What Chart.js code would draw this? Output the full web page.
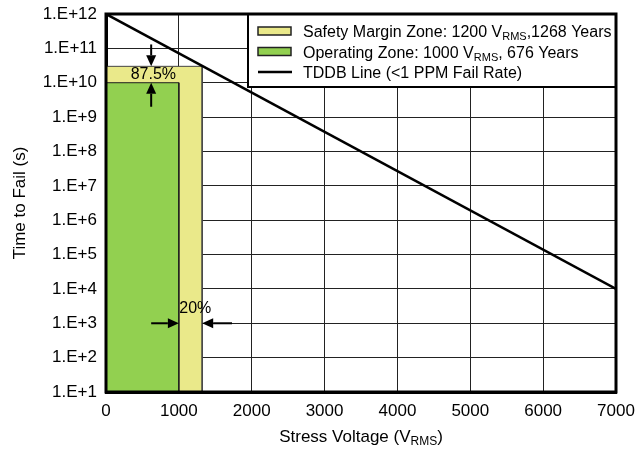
<!DOCTYPE html>
<html>
<head>
<meta charset="utf-8">
<script src="https://cdn.jsdelivr.net/npm/chart.js@4/dist/chart.umd.min.js"></script>
<style>
body { margin: 0; background: #fff; }
</style>
</head>
<body>
<canvas id="grafico" width="636" height="450"></canvas>
<script>
/* datos */
var voltageTicks = [0, 1000, 2000, 3000, 4000, 5000, 6000, 7000];
var timeTicks = [1e1, 1e2, 1e3, 1e4, 1e5, 1e6, 1e7, 1e8, 1e9, 1e10, 1e11, 1e12];

var tddbVoltage = [0, 7000];
var tddbTime = [1e12, 1e4];

var safetyVoltage = [0, 0, 1320, 1320];
var safetyTime = [1e1, 3e10, 3e10, 1e1];

var operatingVoltage = [0, 0, 1000, 1000];
var operatingTime = [1e1, 1e10, 1e10, 1e1];

// flechas y textos de las cotas (en unidades de los ejes)
var marginArrowX = 620;
var marginArrowFrom = [1.3e11, 2e9];
var marginArrowTo = [3e10, 1e10];
var marginText = "87.5%";
var marginTextX = 650;
var marginTextY = 1.75e10;

var widthArrowY = 1e3;
var widthArrowFrom = [620, 1730];
var widthArrowTo = [1000, 1320];
var widthText = "20%";
var widthTextX = 1225;
var widthTextY = 2.7e3;

var legendRows = [
    [["Safety Margin Zone: 1200 V", false], ["RMS", true], [",1268 Years", false]],
    [["Operating Zone: 1000 V", false], ["RMS", true], [", 676 Years", false]],
    [["TDDB Line (<1 PPM Fail Rate)", false]]
];
var xTitle = [["Stress Voltage (V", false], ["RMS", true], [")", false]];
var yTitle = "Time to Fail (s)";

var FONT = "'Liberation Sans', Arial, sans-serif";
var YELLOW = "#eae98a";
var GREEN = "#92d050";

function points(xs, ys) {
    return xs.map(function (x, i) { return { x: x, y: ys[i] }; });
}

// texto con subíndices
function partsWidth(ctx, parts, size) {
    var w = 0;
    parts.forEach(function (p) {
        ctx.font = (p[1] ? Math.round(size * 0.68) : size) + "px " + FONT;
        w += ctx.measureText(p[0]).width;
    });
    return w;
}
function drawParts(ctx, parts, x, y, size) {
    ctx.textBaseline = "alphabetic";
    ctx.textAlign = "left";
    parts.forEach(function (p) {
        ctx.font = (p[1] ? Math.round(size * 0.68) : size) + "px " + FONT;
        ctx.fillText(p[0], x, p[1] ? y + 3 : y);
        x += ctx.measureText(p[0]).width;
    });
}

function arrow(ctx, x1, y1, x2, y2) {
    var ang = Math.atan2(y2 - y1, x2 - x1);
    var head = 11, half = 5;
    ctx.beginPath();
    ctx.moveTo(x1, y1);
    ctx.lineTo(x2 - Math.cos(ang) * head, y2 - Math.sin(ang) * head);
    ctx.lineWidth = 2;
    ctx.strokeStyle = "#000";
    ctx.stroke();
    ctx.beginPath();
    ctx.moveTo(x2, y2);
    ctx.lineTo(x2 - Math.cos(ang) * head - Math.sin(ang) * half, y2 - Math.sin(ang) * head + Math.cos(ang) * half);
    ctx.lineTo(x2 - Math.cos(ang) * head + Math.sin(ang) * half, y2 - Math.sin(ang) * head - Math.cos(ang) * half);
    ctx.closePath();
    ctx.fillStyle = "#000";
    ctx.fill();
}

/* leyenda dentro del gráfico */
var legendPlugin = {
    id: "leyenda",
    afterDatasetsDraw: function (chart) {
        var ctx = chart.ctx, a = chart.chartArea;
        var w = 368, h = 73;
        var left = a.right - w, top = a.top;
        ctx.save();
        ctx.fillStyle = "#fff";
        ctx.fillRect(left, top, w, h);
        ctx.lineWidth = 2;
        ctx.strokeStyle = "#000";
        ctx.strokeRect(left, top, w, h);
        var swatches = [YELLOW, GREEN, null];
        legendRows.forEach(function (row, i) {
            var cy = top + 17 + i * 20.5;
            if (swatches[i]) {
                ctx.fillStyle = swatches[i];
                ctx.fillRect(left + 10, cy - 4, 33, 8);
                ctx.lineWidth = 1.5;
                ctx.strokeStyle = "#222";
                ctx.strokeRect(left + 10, cy - 4, 33, 8);
            } else {
                ctx.beginPath();
                ctx.moveTo(left + 10, cy);
                ctx.lineTo(left + 44, cy);
                ctx.lineWidth = 2.5;
                ctx.strokeStyle = "#000";
                ctx.stroke();
            }
            ctx.fillStyle = "#000";
            drawParts(ctx, row, left + 55, cy + 6, 16);
        });
        ctx.restore();
    }
};

/* marco del área del gráfico */
var framePlugin = {
    id: "marco",
    afterDatasetsDraw: function (chart) {
        var ctx = chart.ctx, a = chart.chartArea;
        ctx.save();
        ctx.lineWidth = 3;
        ctx.strokeStyle = "#000";
        ctx.strokeRect(a.left, a.top, a.right - a.left, a.bottom - a.top);
        ctx.restore();
    }
};

/* cotas y títulos de ejes */
var notesPlugin = {
    id: "cotas",
    afterDraw: function (chart) {
        var ctx = chart.ctx, a = chart.chartArea;
        var x = chart.scales.x, y = chart.scales.y;
        ctx.save();
        for (var i = 0; i < 2; i++) {
            arrow(ctx, x.getPixelForValue(marginArrowX), y.getPixelForValue(marginArrowFrom[i]),
                x.getPixelForValue(marginArrowX), y.getPixelForValue(marginArrowTo[i]));
            arrow(ctx, x.getPixelForValue(widthArrowFrom[i]), y.getPixelForValue(widthArrowY),
                x.getPixelForValue(widthArrowTo[i]), y.getPixelForValue(widthArrowY));
        }
        ctx.fillStyle = "#000";
        ctx.font = "16px " + FONT;
        ctx.textAlign = "center";
        ctx.textBaseline = "middle";
        ctx.fillText(marginText, x.getPixelForValue(marginTextX), y.getPixelForValue(marginTextY));
        ctx.fillText(widthText, x.getPixelForValue(widthTextX), y.getPixelForValue(widthTextY));

        // títulos
        var cx = (a.left + a.right) / 2;
        var tw = partsWidth(ctx, xTitle, 17);
        drawParts(ctx, xTitle, cx - tw / 2, 442, 17);
        ctx.translate(20, (a.top + a.bottom) / 2);
        ctx.rotate(-Math.PI / 2);
        ctx.font = "17px " + FONT;
        ctx.textAlign = "center";
        ctx.textBaseline = "middle";
        ctx.fillText(yTitle, 0, 0);
        ctx.restore();
    }
};

function cargaGrafico() {
    var datos = {
        datasets: [{
            label: "TDDB Line (<1 PPM Fail Rate)",
            data: points(tddbVoltage, tddbTime),
            showLine: true,
            borderColor: "#000",
            borderWidth: 2.5,
            pointRadius: 0,
            fill: false,
            order: 1
        }, {
            label: "Operating Zone",
            data: points(operatingVoltage, operatingTime),
            showLine: true,
            borderColor: "#1e1e1e",
            borderWidth: 1,
            backgroundColor: GREEN,
            pointRadius: 0,
            fill: "start",
            order: 2
        }, {
            label: "Safety Margin Zone",
            data: points(safetyVoltage, safetyTime),
            showLine: true,
            borderColor: "#444",
            borderWidth: 1,
            backgroundColor: YELLOW,
            pointRadius: 0,
            fill: "start",
            order: 3
        }]
    };

    var config = {
        type: "scatter",
        data: datos,
        options: {
            responsive: false,
            animation: false,
            layout: { padding: { top: 14, right: 20, left: 0, bottom: 0 } },
            plugins: {
                legend: { display: false },
                tooltip: { enabled: false }
            },
            scales: {
                x: {
                    type: "linear",
                    min: 0,
                    max: 7000,
                    afterBuildTicks: function (s) {
                        s.ticks = voltageTicks.map(function (v) { return { value: v }; });
                    },
                    afterFit: function (s) {
                        s.height = 58;
                        s.paddingLeft = 0;
                        s.paddingRight = 0;
                    },
                    grid: { color: "#222", lineWidth: 1, drawTicks: false },
                    border: { color: "#000", width: 3 },
                    ticks: {
                        padding: 9,
                        color: "#000",
                        maxRotation: 0,
                        font: { family: FONT, size: 17 },
                        callback: function (v) { return String(v); }
                    }
                },
                y: {
                    type: "logarithmic",
                    min: 1e1,
                    max: 1e12,
                    afterBuildTicks: function (s) {
                        s.ticks = timeTicks.map(function (v) { return { value: v }; });
                    },
                    afterFit: function (s) {
                        s.width = 106;
                        s.paddingTop = 0;
                        s.paddingBottom = 0;
                    },
                    grid: { color: "#222", lineWidth: 1, drawTicks: false },
                    border: { color: "#000", width: 3 },
                    ticks: {
                        padding: 9,
                        color: "#000",
                        font: { family: FONT, size: 17 },
                        callback: function (v) {
                            return "1.E+" + Math.round(Math.log10(v));
                        }
                    }
                }
            }
        },
        plugins: [legendPlugin, framePlugin, notesPlugin]
    };
    new Chart(document.getElementById("grafico").getContext("2d"), config);
}

cargaGrafico();
</script>
</body>
</html>
